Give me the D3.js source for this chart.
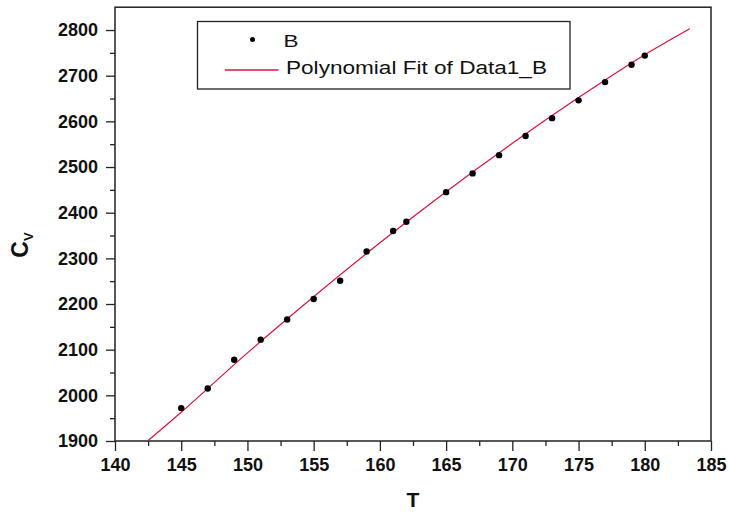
<!DOCTYPE html>
<html>
<head>
<meta charset="utf-8">
<script src="https://cdnjs.cloudflare.com/ajax/libs/d3/7.8.5/d3.min.js"></script>
<style>
  html, body { margin: 0; padding: 0; background: #fff; }
  svg { display: block; }
</style>
</head>
<body>
<script>
// ---- data ----
const pointT  = [145, 147, 149, 151, 153, 155, 157, 159, 161, 162, 165, 167, 169, 171, 173, 175, 177, 179, 180];
const pointCv = [1972, 2015, 2078, 2122, 2166, 2211, 2251, 2315, 2360, 2380, 2445, 2486, 2526, 2568, 2607, 2646, 2686, 2724, 2744];
const fitT  = [142.5, 145, 150, 155, 160, 165, 170, 175, 180, 183.4];
const fitCv = [1901, 1963, 2093, 2216, 2334, 2446, 2552, 2652, 2746, 2803];
const xTicks = [140, 145, 150, 155, 160, 165, 170, 175, 180, 185];
const yTicks = [1900, 2000, 2100, 2200, 2300, 2400, 2500, 2600, 2700, 2800];
const xMinor = [142.5, 147.5, 152.5, 157.5, 162.5, 167.5, 172.5, 177.5, 182.5];
const yMinor = [1950, 2050, 2150, 2250, 2350, 2450, 2550, 2650, 2750];
const legendLabels = ["B", "Polynomial Fit of Data1_B"];

const W = 729, H = 512;
const svg = d3.select("body").append("svg").attr("width", W).attr("height", H);

const x = d3.scaleLinear().domain([140, 185]).range([115, 711]);
const y = d3.scaleLinear().domain([1900, 2850]).range([441, 7.2]);

const font = "'Liberation Sans', Arial, sans-serif";
const axisColor = "#222";

// frame
svg.append("rect")
  .attr("x", x(140)).attr("y", y(2850))
  .attr("width", x(185) - x(140)).attr("height", y(1900) - y(2850))
  .attr("fill", "none").attr("stroke", axisColor).attr("stroke-width", 1.5);

function styleAxis(g) {
  g.select(".domain").remove();
  g.selectAll(".tick line").attr("stroke", axisColor).attr("stroke-width", 1.3);
  g.selectAll("text").attr("fill", "#111").attr("font-family", font)
    .attr("font-weight", "bold").attr("font-size", 18);
}

// x axis
svg.append("g").attr("transform", `translate(0,${y(1900)})`)
  .call(d3.axisBottom(x).tickValues(xTicks).tickSize(10).tickSizeOuter(0).tickPadding(7).tickFormat(d3.format("d")))
  .call(styleAxis);
svg.append("g").attr("transform", `translate(0,${y(1900)})`)
  .call(d3.axisBottom(x).tickValues(xMinor).tickSize(5).tickSizeOuter(0).tickFormat(""))
  .call(styleAxis);

// y axis
svg.append("g").attr("transform", `translate(${x(140)},0)`)
  .call(d3.axisLeft(y).tickValues(yTicks).tickSize(9).tickSizeOuter(0).tickPadding(8).tickFormat(d3.format("d")))
  .call(styleAxis);
svg.append("g").attr("transform", `translate(${x(140)},0)`)
  .call(d3.axisLeft(y).tickValues(yMinor).tickSize(5).tickSizeOuter(0).tickFormat(""))
  .call(styleAxis);

// axis titles
svg.append("text")
  .attr("x", (x(140) + x(185)) / 2).attr("y", 507)
  .attr("text-anchor", "middle")
  .attr("font-family", font).attr("font-weight", "bold").attr("font-size", 21)
  .attr("fill", "#111").text("T");

const yt = svg.append("text")
  .attr("transform", "translate(28,245) rotate(-90)")
  .attr("text-anchor", "middle")
  .attr("font-family", font).attr("font-weight", "bold").attr("fill", "#111");
yt.append("tspan").attr("font-size", 23).text("C");
yt.append("tspan").attr("font-size", 13).attr("dy", 5).text("V");

// fit line
const fitData = fitT.map((t, i) => ({ t, v: fitCv[i] }));
svg.append("path").datum(fitData)
  .attr("fill", "none").attr("stroke", "#e0103a").attr("stroke-width", 1.2)
  .attr("d", d3.line().x(d => x(d.t)).y(d => y(d.v)).curve(d3.curveMonotoneX));

// points
const pts = pointT.map((t, i) => ({ t, v: pointCv[i] }));
svg.append("g").selectAll("circle").data(pts).join("circle")
  .attr("cx", d => x(d.t)).attr("cy", d => y(d.v)).attr("r", 3.2).attr("fill", "#000");

// legend
const lg = svg.append("g");
lg.append("rect").attr("x", 197.5).attr("y", 21.5).attr("width", 372.5).attr("height", 67.5)
  .attr("fill", "#fff").attr("stroke", axisColor).attr("stroke-width", 1.3);
lg.append("circle").attr("cx", 252.5).attr("cy", 39.5).attr("r", 2.5).attr("fill", "#000");
lg.append("text").attr("x", 283.5).attr("y", 47)
  .attr("font-family", font).attr("font-size", 17).attr("fill", "#111")
  .attr("textLength", 15).attr("lengthAdjust", "spacingAndGlyphs").text(legendLabels[0]);
lg.append("line").attr("x1", 225).attr("x2", 278.5).attr("y1", 70).attr("y2", 70)
  .attr("stroke", "#e0103a").attr("stroke-width", 1.3);
lg.append("text").attr("x", 286).attr("y", 73.5)
  .attr("font-family", font).attr("font-size", 17.5).attr("fill", "#111")
  .attr("textLength", 261).attr("lengthAdjust", "spacingAndGlyphs").text(legendLabels[1]);
</script>
</body>
</html>
